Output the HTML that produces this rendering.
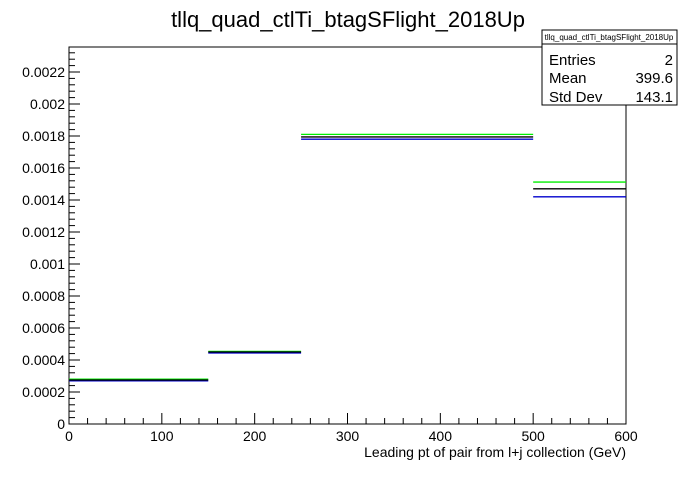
<!DOCTYPE html>
<html><head><meta charset="utf-8"><style>
body{margin:0;background:#fff;font-family:"Liberation Sans",sans-serif}
svg text{font-family:"Liberation Sans",sans-serif}
</style></head><body>
<svg id="c" width="696" height="472">
<rect width="696" height="472" fill="#fff"/>
<text x="348" y="27" font-size="22" text-anchor="middle">tllq_quad_ctlTi_btagSFlight_2018Up</text>
<g id="axes"></g>
<g id="marks"></g>
<text x="626" y="457" font-size="14" text-anchor="end">Leading pt of pair from l+j collection (GeV)</text>
<g>
<rect x="542" y="30" width="135" height="75" fill="#fff" stroke="#000" stroke-width="1"/>
<line x1="542" y1="44" x2="677" y2="44" stroke="#000"/>
<text x="609" y="40" font-size="8" text-anchor="middle">tllq_quad_ctlTi_btagSFlight_2018Up</text>
<text x="549" y="65" font-size="15">Entries</text><text x="673" y="65" font-size="15" text-anchor="end">2</text>
<text x="549" y="83" font-size="15">Mean</text><text x="673" y="83" font-size="15" text-anchor="end">399.6</text>
<text x="549" y="102" font-size="15">Std Dev</text><text x="673" y="102" font-size="15" text-anchor="end">143.1</text>
</g>
</svg>
<script>
const binEdges=[0,150,250,500,600];
const greenVals=[0.000280,0.000454,0.00181,0.001512];
const blackVals=[0.000275,0.000450,0.001794,0.00147];
const blueVals=[0.000270,0.000444,0.00178,0.00142];
const xTicks=[0,100,200,300,400,500,600];
const yTicks=[0,0.0002,0.0004,0.0006,0.0008,0.001,0.0012,0.0014,0.0016,0.0018,0.002,0.0022];
const yTickLabels=["0","0.0002","0.0004","0.0006","0.0008","0.001","0.0012","0.0014","0.0016","0.0018","0.002","0.0022"];
const X0=69,X1=626,Y0=424,YT=47,XMAX=600,YMAX=(424-47)/160000;
const xs=v=>X0+(v/XMAX)*(X1-X0);
const ys=v=>Y0-(v/YMAX)*(Y0-YT);
const NS="http://www.w3.org/2000/svg";
function mk(t,a,p){const e=document.createElementNS(NS,t);for(const k in a)e.setAttribute(k,a[k]);p.appendChild(e);return e;}
const ax=document.getElementById('axes');
const fr=mk('rect',{x:X0,y:YT,width:X1-X0,height:Y0-YT,fill:'none',stroke:'#000','stroke-width':1},ax);


xTicks.forEach((v,i)=>{
  const l=mk('line',{x1:xs(v),x2:xs(v),y1:Y0,y2:Y0-11,stroke:'#000'},ax);
  
  
  const t=mk('text',{x:xs(v),y:Y0+17,'font-size':14,'text-anchor':'middle'},ax);t.textContent=v;
  
  
});
for(let v=0;v<=XMAX;v+=20){if(v%100)mk('line',{x1:xs(v),x2:xs(v),y1:Y0,y2:Y0-6,stroke:'#000'},ax);}
yTicks.forEach((v,i)=>{
  const l=mk('line',{x1:X0,x2:X0+11,y1:ys(v),y2:ys(v),stroke:'#000'},ax);
  
  
  const t=mk('text',{x:X0-4,y:ys(v)+5,'font-size':14,'text-anchor':'end'},ax);t.textContent=yTickLabels[i];
  
  
});
for(let k=1;k*0.00004<YMAX;k++){if(k%5)mk('line',{x1:X0,x2:X0+6,y1:ys(k*0.00004),y2:ys(k*0.00004),stroke:'#000'},ax);}
const mg=document.getElementById('marks');
[[blueVals,'#0000cc','blue'],[greenVals,'#00ee00','green'],[blackVals,'#000','black']].forEach(([vals,col,nm])=>{
  vals.forEach((v,i)=>{
    const l=mk('line',{x1:xs(binEdges[i]),x2:xs(binEdges[i+1]),y1:ys(v),y2:ys(v),stroke:col,'stroke-width':1.3},mg);
    
    
  });
});
</script>
</body></html>
